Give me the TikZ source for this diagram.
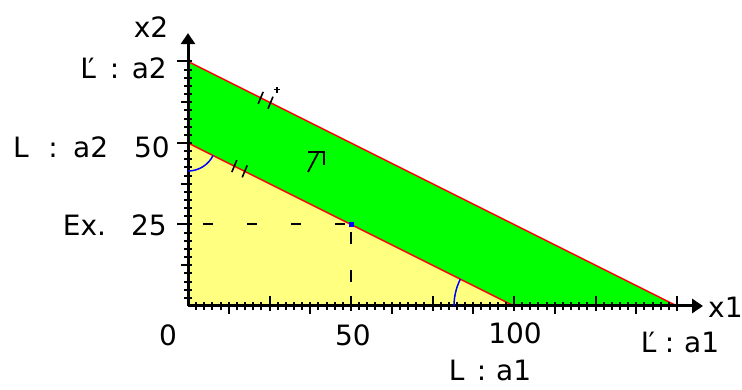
\documentclass[tikz,border=0pt]{standalone}
\usepackage{fontspec}
\setmainfont{DejaVu Sans}
\usetikzlibrary{arrows.meta}
\definecolor{fillyellow}{RGB}{255,255,128}
\definecolor{fillgreen}{RGB}{0,255,0}
\definecolor{linered}{RGB}{255,0,0}
\begin{document}
\begin{tikzpicture}[x=1pt,y=1pt,
  lab/.style={font=\fontsize{28}{28}\selectfont, inner sep=0pt},
  axisline/.style={line width=3pt, -{Triangle[length=11pt,width=14pt]}},
  tickline/.style={line width=2pt},
  boundary/.style={linered, line width=1.4pt},
  hashmark/.style={line width=1.6pt},
  anglearc/.style={blue, line width=1.5pt},
  guideh/.style={line width=2pt, dash pattern=on 10pt off 34pt, dash phase=29pt},
  guidev/.style={line width=2pt, dash pattern=on 12pt off 26pt, dash phase=30pt}]
\useasboundingbox (0,0) rectangle (742,390);
\fill[white] (0,0) rectangle (742,390);
\begin{scope}[shift={(188,84)}, x=3.26pt, y=3.26pt]
  \coordinate (O) at (0,0);
  \coordinate (A2) at (0,50);
  \coordinate (B2) at (0,75);
  \coordinate (A1) at (100,0);
  \coordinate (B1) at (150,0);
  \coordinate (P) at (50,25);
  \coordinate (Py) at (0,25);
  \coordinate (Px) at (50,0);
  \coordinate (Xend) at (158,0);
  \coordinate (Yend) at (0,83.7);
  \fill[fillyellow] (O) -- (A1) -- (A2) -- cycle;
  \fill[fillgreen] (A2) -- (A1) -- (B1) -- (B2) -- cycle;
  \draw[guideh] (Py) -- (P);
  \draw[guidev] (P) -- (Px);
  \draw[boundary] (A2) -- (A1);
  \draw[boundary] (B2) -- (B1);
  % ticks on x axis
  \foreach \i in {1,...,60} {
    \draw[tickline] (2.5*\i,0) ++(0,-4pt) -- ++(0,8pt);
  }
  \foreach \i in {1,3,...,11} {
    \draw[tickline] (12.5*\i,0) ++(0,-8pt) -- ++(0,12pt);
  }
  \foreach \i in {1,...,6} {
    \draw[tickline] (25*\i,0) ++(0,-5pt) -- ++(0,15pt);
  }
  % ticks on y axis
  \foreach \i in {1,...,30} {
    \draw[tickline] (0,2.5*\i) ++(-4pt,0) -- ++(8pt,0);
  }
  \foreach \i in {1,3,5} {
    \draw[tickline] (0,12.5*\i) ++(-7pt,0) -- ++(11pt,0);
  }
  \foreach \i in {1,2,3} {
    \draw[tickline] (0,25*\i) ++(-11pt,0) -- ++(15pt,0);
  }
  \draw[axisline] (O) -- (Xend);
  \draw[axisline] (O) -- (Yend);
  % angle arcs
  \draw[anglearc] (A2) ++(-90:28pt) arc[start angle=-90, end angle=-26.57, radius=28pt];
  \draw[anglearc] (A1) ++(153.43:60pt) arc[start angle=153.43, end angle=180, radius=60pt];
  % point
  \fill[blue] (P) ++(-2.5pt,-2.5pt) rectangle ++(5pt,5pt);
  % hash marks on L
  \foreach \t in {14.2,17.4} {
    \draw[hashmark] (\t,50-\t/2) ++(-2.5pt,-6pt) -- ++(5pt,12pt);
  }
  % hash marks on L'
  \foreach \t in {22.3,25.3} {
    \draw[hashmark] (\t,75-\t/2) ++(-2.5pt,-6pt) -- ++(5pt,12pt);
  }
  \draw[line width=1.6pt] (27.3,66.4) ++(-3pt,0) -- ++(6pt,0) ++(-3pt,-3pt) -- ++(0,6pt);
\end{scope}
% direction arrow
\draw[line width=1.8pt] (308,218) -- (318,237);
\draw[line width=1.8pt] (308,238) -- (324,238) -- (324,225);
% labels
\node[lab] (x2lab) at (151,363) {x2};
\node[lab, anchor=east] (Lpa2) at (167,322) {L\kern-.28em′\hspace{.55em}:\hspace{.45em}a2};
\node[lab, anchor=west] (La2) at (13,243) {L\hspace{.7em}:\hspace{.55em}a2};
\node[lab, anchor=east] (y50) at (170,243) {50};
\node[lab, anchor=east] (ex25) at (167,165) {Ex.\hspace{.9em}25};
\node[lab] (x0) at (168,55) {0};
\node[lab] (x50) at (353,55) {50};
\node[lab] (x100) at (515,57) {100};
\node[lab] (La1) at (490,20) {L\hspace{.45em}:\hspace{.35em}a1};
\node[lab] (Lpa1) at (680,48) {L\kern-.28em′\hspace{.35em}:\hspace{.35em}a1};
\node[lab, anchor=west] (x1lab) at (708,83) {x1};
\end{tikzpicture}
\end{document}
